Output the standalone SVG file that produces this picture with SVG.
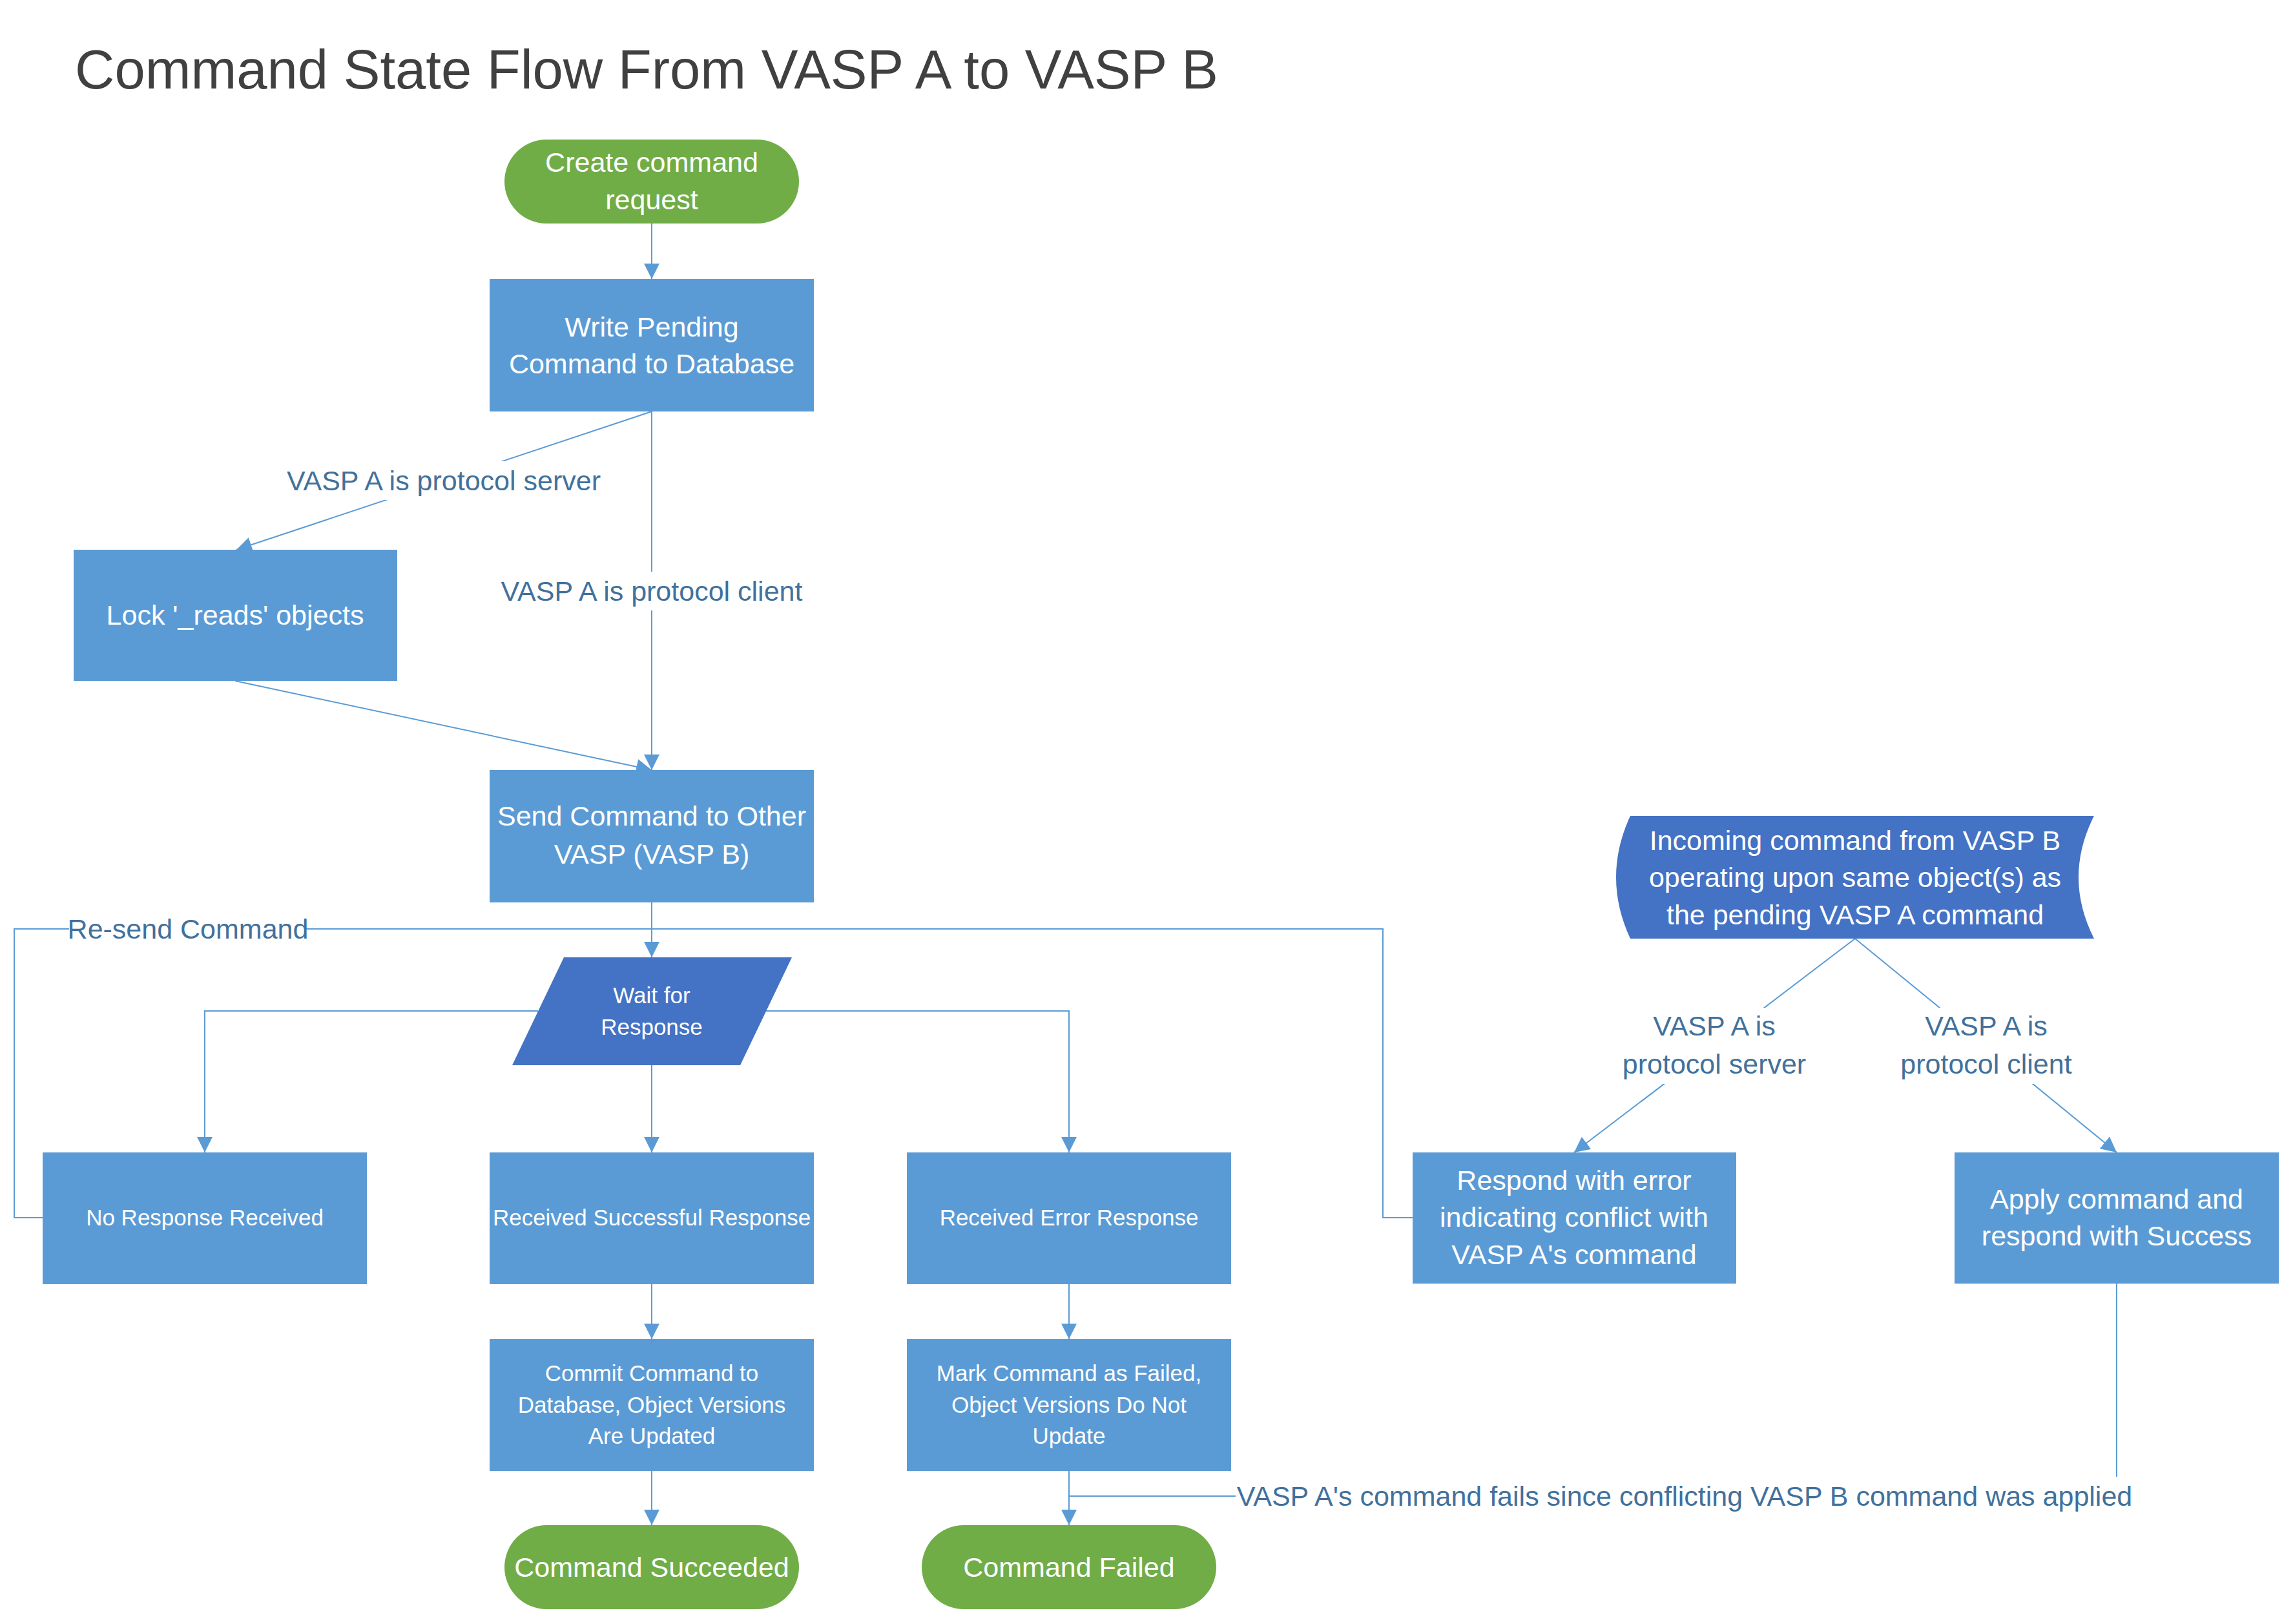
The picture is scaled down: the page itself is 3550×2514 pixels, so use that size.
<svg xmlns="http://www.w3.org/2000/svg" width="3550" height="2514" viewBox="0 0 3550 2514">
<defs>
<style>
.box{fill:#5B9BD5;}
.dark{fill:#4472C4;}
.term{fill:#70AD47;}
.t{font-family:"Liberation Sans",Arial,sans-serif;font-size:43px;fill:#FFFFFF;text-anchor:middle;}
.ts{font-family:"Liberation Sans",Arial,sans-serif;font-size:35px;fill:#FFFFFF;text-anchor:middle;}
.lbl{font-family:"Liberation Sans",Arial,sans-serif;font-size:43px;fill:#41719C;text-anchor:middle;}
.bg{fill:#FFFFFF;}
.c{fill:none;stroke:#5B9BD5;stroke-width:2;}
.title{font-family:"Liberation Sans",Arial,sans-serif;font-size:85px;fill:#404040;}
</style>
<marker id="arr" markerUnits="userSpaceOnUse" markerWidth="24" markerHeight="24" refX="24" refY="12" orient="auto" viewBox="0 0 24 24">
<path d="M0,0 L24,12 L0,24 z" fill="#5B9BD5"/>
</marker>
</defs>
<rect width="3550" height="2514" fill="#FFFFFF"/>
<text class="title" x="116" y="137">Command State Flow From VASP A to VASP B</text>

<g id="connectors">
<path class="c" d="M1009,346 L1009,432" marker-end="url(#arr)"/>
<path class="c" d="M1009,637 L366,851" marker-end="url(#arr)"/>
<path class="c" d="M1009,637 L1009,1192" marker-end="url(#arr)"/>
<path class="c" d="M364,1054 L1009,1192" marker-end="url(#arr)"/>
<path class="c" d="M1009,1397 L1009,1482" marker-end="url(#arr)"/>
<path class="c" d="M833,1565 L317,1565 L317,1784" marker-end="url(#arr)"/>
<path class="c" d="M1009,1649 L1009,1784" marker-end="url(#arr)"/>
<path class="c" d="M1186,1565 L1655,1565 L1655,1784" marker-end="url(#arr)"/>
<path class="c" d="M1009,1988 L1009,2073" marker-end="url(#arr)"/>
<path class="c" d="M1009,2277 L1009,2361" marker-end="url(#arr)"/>
<path class="c" d="M1655,1988 L1655,2073" marker-end="url(#arr)"/>
<path class="c" d="M1655,2277 L1655,2361" marker-end="url(#arr)"/>
<path class="c" d="M66,1885 L22,1885 L22,1438 L2141,1438 L2141,1885 L2187,1885"/>
<path class="c" d="M2872,1453 L2437,1784" marker-end="url(#arr)"/>
<path class="c" d="M2872,1453 L3277,1784" marker-end="url(#arr)"/>
<path class="c" d="M3277,1987 L3277,2316 L1655,2316"/>

<rect class="bg" x="437" y="714" width="500" height="60"/>
<text class="lbl" x="687" y="759">VASP A is protocol server</text>
<rect class="bg" x="770" y="885" width="478" height="60"/>
<text class="lbl" x="1009" y="930">VASP A is protocol client</text>
<rect class="bg" x="107" y="1410" width="367" height="56"/>
<text class="lbl" x="291" y="1453">Re-send Command</text>
<rect class="bg" x="2499" y="1560" width="310" height="118"/>
<text class="lbl" x="2654" y="1603">VASP A is</text>
<text class="lbl" x="2654" y="1662">protocol server</text>
<rect class="bg" x="2935" y="1560" width="280" height="118"/>
<text class="lbl" x="3075" y="1603">VASP A is</text>
<text class="lbl" x="3075" y="1662">protocol client</text>
<rect class="bg" x="1913" y="2286" width="1390" height="60"/>
<text class="lbl" x="2608" y="2331">VASP A's command fails since conflicting VASP B command was applied</text>
</g>

<g id="create">
<rect class="term" x="781" y="216" width="456" height="130" rx="65" ry="65"/>
<text class="t" x="1009" y="266">Create command</text>
<text class="t" x="1009" y="324">request</text>
</g>
<g id="write">
<rect class="box" x="758" y="432" width="502" height="205"/>
<text class="t" x="1009" y="521">Write Pending</text>
<text class="t" x="1009" y="578">Command to Database</text>
</g>
<g id="lock">
<rect class="box" x="114" y="851" width="501" height="203"/>
<text class="t" x="364" y="967">Lock '_reads' objects</text>
</g>
<g id="send">
<rect class="box" x="758" y="1192" width="502" height="205"/>
<text class="t" x="1009" y="1278">Send Command to Other</text>
<text class="t" x="1009" y="1337">VASP (VASP B)</text>
</g>
<g id="wait">
<polygon class="dark" points="873,1482 1226,1482 1146,1649 793,1649"/>
<text class="ts" x="1009" y="1553">Wait for</text>
<text class="ts" x="1009" y="1602">Response</text>
</g>
<g id="noresp">
<rect class="box" x="66" y="1784" width="502" height="204"/>
<text class="ts" x="317" y="1897">No Response Received</text>
</g>
<g id="success">
<rect class="box" x="758" y="1784" width="502" height="204"/>
<text class="ts" x="1009" y="1897">Received Successful Response</text>
</g>
<g id="error">
<rect class="box" x="1404" y="1784" width="502" height="204"/>
<text class="ts" x="1655" y="1897">Received Error Response</text>
</g>
<g id="commit">
<rect class="box" x="758" y="2073" width="502" height="204"/>
<text class="ts" x="1009" y="2138">Commit Command to</text>
<text class="ts" x="1009" y="2187">Database, Object Versions</text>
<text class="ts" x="1009" y="2235">Are Updated</text>
</g>
<g id="mark">
<rect class="box" x="1404" y="2073" width="502" height="204"/>
<text class="ts" x="1655" y="2138">Mark Command as Failed,</text>
<text class="ts" x="1655" y="2187">Object Versions Do Not</text>
<text class="ts" x="1655" y="2235">Update</text>
</g>
<g id="succeeded">
<rect class="term" x="781" y="2361" width="456" height="130" rx="65" ry="65"/>
<text class="t" x="1009" y="2441">Command Succeeded</text>
</g>
<g id="failed">
<rect class="term" x="1427" y="2361" width="456" height="130" rx="65" ry="65"/>
<text class="t" x="1655" y="2441">Command Failed</text>
</g>
<g id="incoming">
<path class="dark" d="M2524,1263 L3242,1263 Q3194,1358 3242,1453 L2524,1453 Q2480,1358 2524,1263 Z"/>
<text class="t" x="2872" y="1316">Incoming command from VASP B</text>
<text class="t" x="2872" y="1373">operating upon same object(s) as</text>
<text class="t" x="2872" y="1431">the pending VASP A command</text>
</g>
<g id="respond">
<rect class="box" x="2187" y="1784" width="501" height="203"/>
<text class="t" x="2437" y="1842">Respond with error</text>
<text class="t" x="2437" y="1899">indicating conflict with</text>
<text class="t" x="2437" y="1957">VASP A's command</text>
</g>
<g id="apply">
<rect class="box" x="3026" y="1784" width="502" height="203"/>
<text class="t" x="3277" y="1871">Apply command and</text>
<text class="t" x="3277" y="1928">respond with Success</text>
</g>
</svg>
